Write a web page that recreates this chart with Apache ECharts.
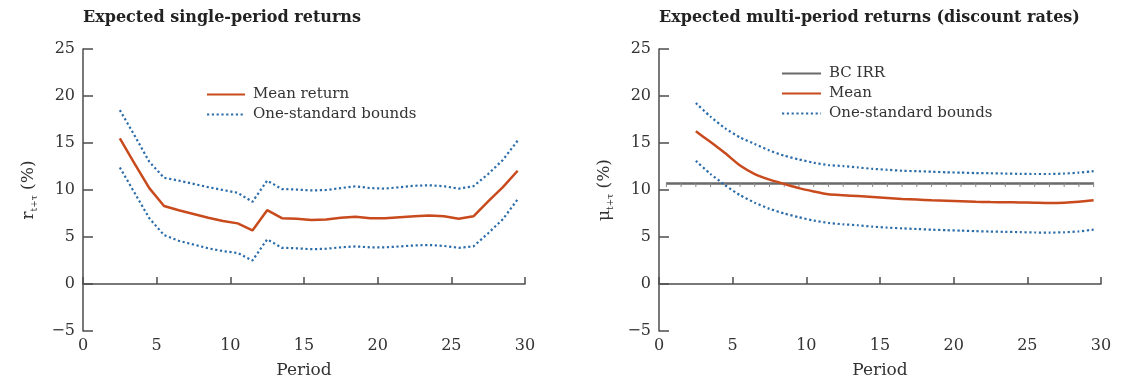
<!DOCTYPE html>
<html>
<head>
<meta charset="utf-8">
<script src="https://cdn.jsdelivr.net/npm/echarts@6/dist/echarts.min.js"></script>
<style>
  html, body { margin: 0; padding: 0; background: #fff; }
  #chart { width: 1127px; height: 384px; }
</style>
</head>
<body>
<div id="chart"></div>
<script>
const periods = [2.5, 3.5, 4.5, 5.5, 6.5, 7.5, 8.5, 9.5, 10.5, 11.5, 12.5, 13.5, 14.5, 15.5,
  16.5, 17.5, 18.5, 19.5, 20.5, 21.5, 22.5, 23.5, 24.5, 25.5, 26.5, 27.5, 28.5, 29.5];

// left panel: expected single-period returns (%)
const singleMean = [15.5, 12.8, 10.2, 8.3, 7.85, 7.45, 7.05, 6.7, 6.45, 5.7, 7.85, 7.0, 6.95, 6.8,
  6.85, 7.05, 7.15, 7.0, 7.0, 7.1, 7.2, 7.3, 7.2, 6.95, 7.2, 8.8, 10.3, 12.05];
const singleUpper = [18.5, 15.8, 13.0, 11.3, 11.0, 10.65, 10.3, 10.0, 9.7, 8.75, 11.0, 10.1, 10.05, 9.95,
  10.0, 10.2, 10.4, 10.2, 10.15, 10.3, 10.45, 10.5, 10.4, 10.15, 10.4, 11.7, 13.2, 15.25];
const singleLower = [12.4, 9.7, 7.0, 5.2, 4.6, 4.2, 3.8, 3.5, 3.3, 2.5, 4.75, 3.85, 3.8, 3.7,
  3.75, 3.9, 4.0, 3.9, 3.9, 4.0, 4.1, 4.15, 4.05, 3.85, 4.0, 5.4, 6.9, 9.0];

// right panel: expected multi-period returns (%)
const multiMean = [16.25, 15.1, 13.9, 12.6, 11.7, 11.1, 10.65, 10.2, 9.85, 9.55, 9.45, 9.35, 9.25, 9.15,
  9.05, 8.98, 8.9, 8.85, 8.8, 8.75, 8.72, 8.7, 8.68, 8.65, 8.62, 8.65, 8.75, 8.9];
const multiUpper = [19.25, 17.8, 16.55, 15.6, 14.9, 14.2, 13.65, 13.25, 12.9, 12.65, 12.55, 12.4, 12.25, 12.15,
  12.05, 12.0, 11.95, 11.88, 11.85, 11.8, 11.78, 11.75, 11.72, 11.7, 11.7, 11.75, 11.85, 12.0];
const multiLower = [13.1, 11.7, 10.5, 9.45, 8.65, 8.0, 7.5, 7.1, 6.75, 6.5, 6.35, 6.25, 6.1, 6.0,
  5.92, 5.85, 5.78, 5.72, 5.68, 5.62, 5.58, 5.55, 5.52, 5.48, 5.47, 5.5, 5.6, 5.78];

const bcIrrPeriods = [0.5, 1.5, 2.5, 3.5, 4.5, 5.5, 6.5, 7.5, 8.5, 9.5, 10.5, 11.5, 12.5, 13.5, 14.5,
  15.5, 16.5, 17.5, 18.5, 19.5, 20.5, 21.5, 22.5, 23.5, 24.5, 25.5, 26.5, 27.5, 28.5, 29.5];
const bcIrr = [10.7, 10.7, 10.7, 10.7, 10.7, 10.7, 10.7, 10.7, 10.7, 10.7, 10.7, 10.7, 10.7, 10.7, 10.7,
  10.7, 10.7, 10.7, 10.7, 10.7, 10.7, 10.7, 10.7, 10.7, 10.7, 10.7, 10.7, 10.7, 10.7, 10.7];

const titles = ["Expected single-period returns", "Expected multi-period returns (discount rates)"];

const FONT = "DejaVu Serif";
const TEXT = "#333";
const AXIS = "#4d4d4d";
const RED = "#c84a1d";
const BLUE = "#2b6ca9";
const GREY = "#6a6a6a";

const pairs = (xs, ys) => xs.map((x, i) => [x, ys[i]]);

const grids = [
  { left: 83, top: 49, width: 442, height: 282 },
  { left: 659, top: 49, width: 442, height: 282 },
];

const xAxes = [];
const yAxes = [];
grids.forEach((g, gi) => {
  // labels + name at the bottom of the plot
  xAxes.push({
    gridIndex: gi, type: "value", min: 0, max: 30, interval: 5, position: "bottom",
    axisLine: { show: false, onZero: false }, axisTick: { show: false }, splitLine: { show: false },
    axisLabel: { fontFamily: FONT, fontSize: 16, color: TEXT, margin: 7 },
    name: "Period", nameLocation: "middle", nameGap: 31,
    nameTextStyle: { fontFamily: FONT, fontSize: 17, color: TEXT },
  });
  // the zero line with its ticks
  xAxes.push({
    gridIndex: gi, type: "value", min: 0, max: 30, interval: 5, position: "bottom",
    axisLine: { show: true, onZero: true, lineStyle: { color: AXIS, width: 1.5 } },
    axisTick: { show: true, inside: true, length: 7, lineStyle: { color: AXIS, width: 1.5 } },
    axisLabel: { show: false }, splitLine: { show: false },
  });
  yAxes.push({
    gridIndex: gi, type: "value", min: -5, max: 25, interval: 5,
    axisLine: { show: true, onZero: false, lineStyle: { color: AXIS, width: 1.5 } },
    axisTick: { show: true, inside: true, length: 10, lineStyle: { color: AXIS, width: 1.5 } },
    axisLabel: {
      fontFamily: FONT, fontSize: 16, color: TEXT, margin: 8,
      formatter: (v) => String(v).replace("-", "\u2212"),
    },
    splitLine: { show: false },
    name: gi === 0 ? "{a|r}{s|t+\u03c4}{a| (%)}" : "{a|\u03bc}{s|t+\u03c4}{a| (%)}",
    nameLocation: "middle", nameRotate: 90, nameGap: 44, nameMoveOverlap: false,
    nameTextStyle: {
      fontFamily: FONT, color: TEXT,
      rich: {
        a: { fontFamily: FONT, fontSize: 17, color: TEXT, lineHeight: 20 },
        s: { fontFamily: FONT, fontSize: 9, color: TEXT, lineHeight: 10, verticalAlign: "bottom" },
      },
    },
  });
});

const solid = (color) => ({ color: color, width: 2.5, type: "solid" });
const dots = { color: BLUE, width: 2.2, type: [2.2, 2.6] };

const series = [
  { name: "Mean return", type: "line", xAxisIndex: 0, yAxisIndex: 0, data: pairs(periods, singleMean),
    symbol: "none", lineStyle: solid(RED), itemStyle: { color: RED }, z: 3 },
  { name: "One-standard bounds", type: "line", xAxisIndex: 0, yAxisIndex: 0, data: pairs(periods, singleUpper),
    symbol: "none", lineStyle: dots, itemStyle: { color: BLUE } },
  { name: "One-standard bounds", type: "line", xAxisIndex: 0, yAxisIndex: 0, data: pairs(periods, singleLower),
    symbol: "none", lineStyle: dots, itemStyle: { color: BLUE } },

  { name: "BC IRR", type: "line", xAxisIndex: 2, yAxisIndex: 1, data: pairs(bcIrrPeriods, bcIrr),
    symbol: "rect", symbolSize: [1, 5], symbolOffset: [0, 1], showSymbol: true,
    lineStyle: solid(GREY), itemStyle: { color: "#888" }, z: 2 },
  { name: "Mean", type: "line", xAxisIndex: 2, yAxisIndex: 1, data: pairs(periods, multiMean),
    symbol: "none", smooth: 0.2, lineStyle: solid(RED), itemStyle: { color: RED }, z: 3 },
  { name: "One-standard bounds", type: "line", xAxisIndex: 2, yAxisIndex: 1, data: pairs(periods, multiUpper),
    symbol: "none", smooth: 0.2, lineStyle: dots, itemStyle: { color: BLUE } },
  { name: "One-standard bounds", type: "line", xAxisIndex: 2, yAxisIndex: 1, data: pairs(periods, multiLower),
    symbol: "none", smooth: 0.2, lineStyle: dots, itemStyle: { color: BLUE } },
];

const legendBase = {
  orient: "vertical", itemWidth: 38, itemHeight: 14, itemGap: 5,
  itemStyle: { opacity: 0 },
  textStyle: { fontFamily: FONT, fontSize: 15, color: TEXT, padding: [0, 0, 0, 3] },
  selectedMode: false,
};

const chart = echarts.init(document.getElementById("chart"), null, { renderer: "canvas" });
chart.setOption({
  animation: false,
  backgroundColor: "#fff",
  title: titles.map((t, i) => ({
    text: t, left: grids[i].left, top: 10, padding: 0,
    textStyle: { fontFamily: FONT, fontSize: 16, fontWeight: "bold", color: "#222" },
  })),
  legend: [
    Object.assign({}, legendBase, { left: 201, top: 82, data: ["Mean return", "One-standard bounds"] }),
    Object.assign({}, legendBase, { left: 776, top: 61, itemWidth: 39, data: ["BC IRR", "Mean", "One-standard bounds"] }),
  ],
  grid: grids.map((g) => Object.assign({ outerBoundsMode: "none", containLabel: false }, g)),
  xAxis: xAxes,
  yAxis: yAxes,
  series: series,
});
</script>
</body>
</html>
